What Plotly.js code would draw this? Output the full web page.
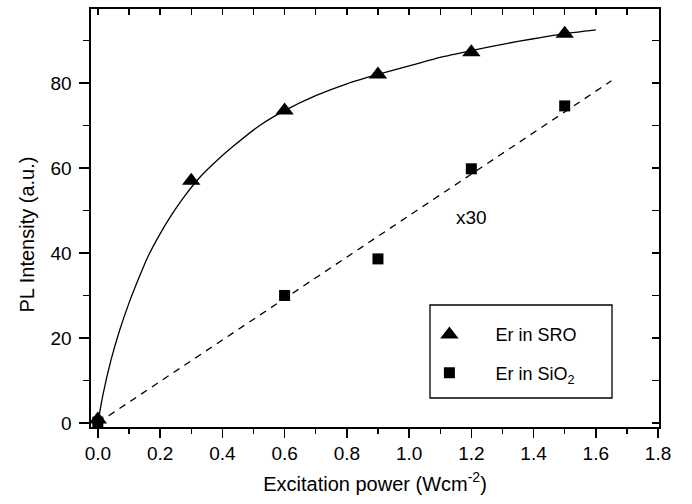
<!DOCTYPE html>
<html>
<head>
<meta charset="utf-8">
<script src="https://cdn.plot.ly/plotly-3.0.1.min.js"></script>
<style>
  html, body { margin: 0; padding: 0; background: #fff; }
  #chart { width: 692px; height: 504px; }
</style>
</head>
<body>
<div id="chart"></div>
<script>
// Measured points: Er in SRO (triangles)
const sroPower = [0, 0.3, 0.6, 0.9, 1.2, 1.5];
const sroPL = [0.8, 57, 73.5, 82, 87.2, 91.6];

// Measured points: Er in SiO2 (squares, x30)
const sioPower = [0, 0.6, 0.9, 1.2, 1.5];
const sioPL = [0.2, 30, 38.6, 59.8, 74.6];

// Saturation fit curve for SRO
const sroFitPower = [0, 0.016, 0.043, 0.07, 0.1, 0.13, 0.16, 0.2, 0.24, 0.28, 0.33, 0.38, 0.43, 0.52, 0.6, 0.7, 0.8, 0.9, 1.0, 1.1, 1.2, 1.3, 1.4, 1.5, 1.6];
const sroFitPL = [0, 6.5, 15, 21.8, 28.2, 33.8, 39, 44.5, 49.3, 53.5, 58, 61.6, 64.8, 70, 73.5, 77, 79.8, 82, 84, 86, 87.6, 89.1, 90.4, 91.6, 92.5];

// Linear fit for SiO2, read at its two ends
const sioFitPower = [0, 1.65];
const sioFitPL = [0, 80.5];

// Axis settings
const xRange = [-0.022, 1.803];
const yRange = [-0.95, 97.4];
const xTickVals = [0, 0.2, 0.4, 0.6, 0.8, 1.0, 1.2, 1.4, 1.6, 1.8];
const xTickText = ['0.0', '0.2', '0.4', '0.6', '0.8', '1.0', '1.2', '1.4', '1.6', '1.8'];
const yTickVals = [0, 20, 40, 60, 80];
const yTickText = ['0', '20', '40', '60', '80'];

const FONT = 'Liberation Sans, Arial, sans-serif';

const traces = [
  {
    x: sroFitPower, y: sroFitPL, mode: 'lines', type: 'scatter',
    line: { color: '#000', width: 1.3, shape: 'spline', smoothing: 0.6 },
    showlegend: false, hoverinfo: 'skip'
  },
  {
    x: sioFitPower, y: sioFitPL, mode: 'lines', type: 'scatter',
    line: { color: '#000', width: 1.3, dash: '7px,6px' },
    showlegend: false, hoverinfo: 'skip'
  },
  {
    x: sroPower, y: sroPL, mode: 'markers', type: 'scatter', name: 'Er in SRO',
    legendgroup: 'a',
    marker: { symbol: 'triangle-up', size: 16, color: '#000' }
  },
  {
    x: sioPower, y: sioPL, mode: 'markers', type: 'scatter', name: 'Er in SiO<sub>2</sub>',
    legendgroup: 'b',
    marker: { symbol: 'square', size: 11, color: '#000' }
  },
  {
    x: [], y: [], xaxis: 'x2', yaxis: 'y2', type: 'scatter', mode: 'markers',
    showlegend: false, hoverinfo: 'skip'
  }
];

const axisCommon = {
  showgrid: false, zeroline: false, showline: true,
  linecolor: '#000', linewidth: 1.6,
  tickcolor: '#000', tickwidth: 1.4,
  tickfont: { family: FONT, size: 19, color: '#000' }
};

const layout = {
  width: 692, height: 504,
  margin: { l: 91, r: 33, t: 9, b: 77 },
  paper_bgcolor: '#fff', plot_bgcolor: '#fff',
  font: { family: FONT, color: '#000' },
  showlegend: true,
  legend: {
    x: 0.55, y: 0.265, xanchor: 'left', yanchor: 'top',
    bgcolor: 'rgba(0,0,0,0)', borderwidth: 0,
    font: { family: FONT, size: 18, color: '#000' },
    itemwidth: 82, traceorder: 'grouped', tracegroupgap: 12
  },
  xaxis: Object.assign({}, axisCommon, {
    range: xRange, tickmode: 'array', tickvals: xTickVals, ticktext: xTickText,
    ticks: 'outside', ticklen: 9,
    minor: { dtick: 0.1, tick0: 0, ticks: 'outside', ticklen: 5, tickcolor: '#000', tickwidth: 1.4 },
    title: { text: 'Excitation power (Wcm<sup>-2</sup>)', font: { family: FONT, size: 20, color: '#000' }, standoff: 13 }
  }),
  yaxis: Object.assign({}, axisCommon, {
    range: yRange, tickmode: 'array', tickvals: yTickVals, ticktext: yTickText,
    ticks: 'outside', ticklen: 10, ticklabelstandoff: 4,
    minor: { dtick: 10, tick0: 0, ticks: 'outside', ticklen: 6, tickcolor: '#000', tickwidth: 1.4 },
    title: { text: '' }
  }),
  xaxis2: Object.assign({}, axisCommon, {
    overlaying: 'x', side: 'top', anchor: 'y2', range: xRange,
    dtick: 0.1, tick0: 0, ticks: 'inside', ticklen: 6, showticklabels: false
  }),
  yaxis2: Object.assign({}, axisCommon, {
    overlaying: 'y', side: 'right', anchor: 'x2', range: yRange,
    dtick: 10, tick0: 0, ticks: 'inside', ticklen: 7, showticklabels: false
  }),
  shapes: [
    { type: 'rect', xref: 'paper', yref: 'paper',
      x0: (430 - 91) / 568, x1: (612 - 91) / 568,
      y0: (427 - 398) / 418, y1: (427 - 305) / 418,
      line: { color: '#000', width: 1.3 }, fillcolor: 'rgba(0,0,0,0)' }
  ],
  annotations: [
    { text: 'x30', x: 1.2, y: 48.3, xref: 'x', yref: 'y', showarrow: false,
      font: { family: FONT, size: 19, color: '#000' } },
    { text: 'PL Intensity (a.u.)', xref: 'paper', yref: 'paper',
      x: -0.113, y: 0.46, xanchor: 'center', yanchor: 'middle', textangle: -90, showarrow: false,
      font: { family: FONT, size: 20, color: '#000' } }
  ]
};

Plotly.newPlot('chart', traces, layout, { staticPlot: true, displayModeBar: false });
</script>
</body>
</html>
